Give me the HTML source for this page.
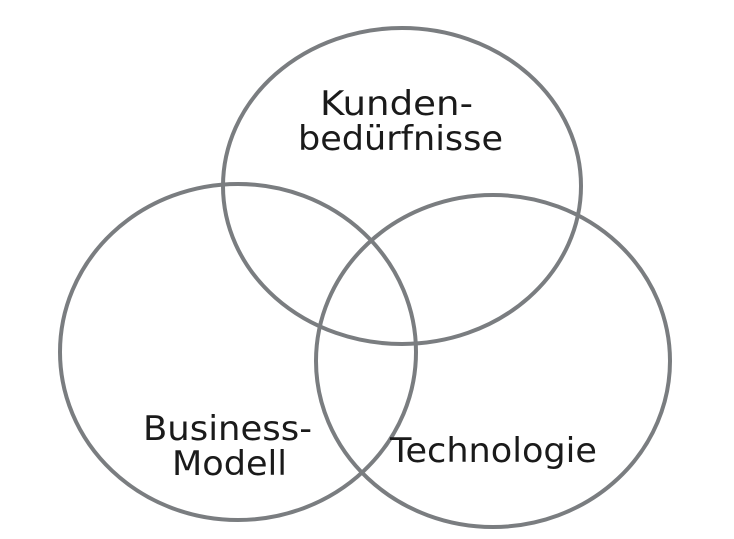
<!DOCTYPE html>
<html><head><style>html,body{margin:0;padding:0;background:#fff}</style></head>
<body>
<svg width="734" height="534" viewBox="0 0 734 534" xmlns="http://www.w3.org/2000/svg">
<g fill="none" stroke="#7a7d80" stroke-width="4">
<ellipse cx="402" cy="186" rx="179" ry="158"/>
<ellipse cx="238" cy="352" rx="178" ry="168"/>
<ellipse cx="493" cy="361" rx="177" ry="166"/>
</g>
<g font-family="DejaVu Sans, Liberation Sans, sans-serif" font-size="34" fill="#1a1a1a" lengthAdjust="spacingAndGlyphs">
<text x="320" y="115" textLength="153" lengthAdjust="spacingAndGlyphs">Kunden-</text>
<text x="298" y="150" textLength="205" lengthAdjust="spacingAndGlyphs">bedürfnisse</text>
<text x="143" y="440" textLength="169" lengthAdjust="spacingAndGlyphs">Business-</text>
<text x="172" y="475" textLength="115" lengthAdjust="spacingAndGlyphs">Modell</text>
<text x="390" y="462" textLength="207" lengthAdjust="spacingAndGlyphs">Technologie</text>
</g>
</svg>
</body></html>
